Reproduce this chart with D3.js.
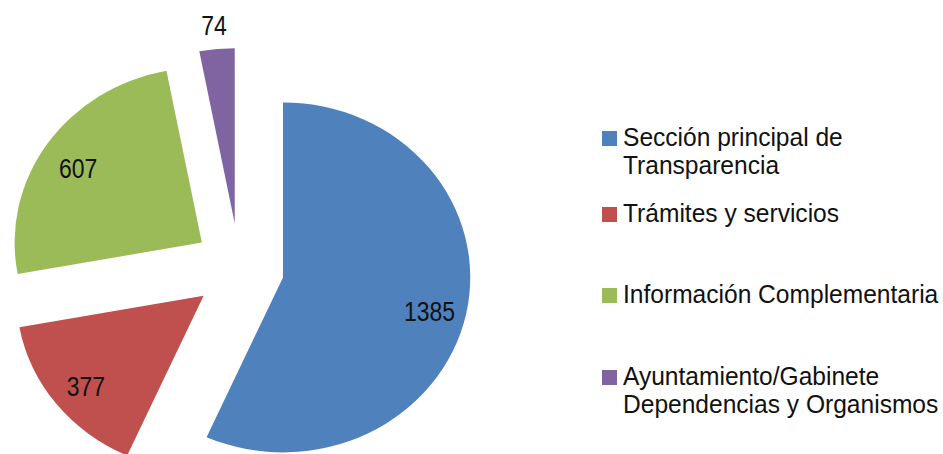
<!DOCTYPE html>
<html>
<head>
<meta charset="utf-8">
<script src="https://cdn.jsdelivr.net/npm/d3@7"></script>
<style>
  body { margin: 0; background: #fff; }
  text { font-family: "Liberation Sans", Arial, sans-serif; }
</style>
</head>
<body>
<div id="chart"></div>
<script>
// data
const categories = [
  "Sección principal de Transparencia",
  "Trámites y servicios",
  "Información Complementaria",
  "Ayuntamiento/Gabinete Dependencias y Organismos"
];
const legendLines = [
  ["Sección principal de", "Transparencia"],
  ["Trámites y servicios"],
  ["Información Complementaria"],
  ["Ayuntamiento/Gabinete", "Dependencias y Organismos"]
];
const values = [1385, 377, 607, 74];
const colors = ["#4F81BD", "#C0504D", "#9BBB59", "#8064A2"];

const width = 943, height = 454;
const cx = 239, cy = 268;     // pie centre before exploding
const ry = 175, sx = 1.07;    // pie is a little wider than tall
const explode = 45;

const svg = d3.select("#chart").append("svg")
    .attr("width", width)
    .attr("height", height);

const pie = d3.pie().sort(null).value(d => d);
const arcs = pie(values);

const arc = d3.arc().innerRadius(0).outerRadius(ry);
const labelArc = d3.arc().innerRadius(ry * 0.8).outerRadius(ry * 0.8);
const outerLabelArc = d3.arc().innerRadius(ry * 1.16).outerRadius(ry * 1.16);

function offset(d) {
    const mid = (d.startAngle + d.endAngle) / 2;
    return [cx + explode * Math.sin(mid), cy - explode * Math.cos(mid)];
}

function labelPos(d) {
    const [ox, oy] = offset(d);
    const c = (d.endAngle - d.startAngle < 0.3 ? outerLabelArc : labelArc).centroid(d);
    return [ox + c[0] * sx, oy + c[1]];
}

svg.append("g")
    .selectAll("path")
    .data(arcs)
    .join("path")
    .attr("transform", d => {
        const [ox, oy] = offset(d);
        return `translate(${ox},${oy}) scale(${sx},1)`;
    })
    .attr("d", arc)
    .attr("fill", (d, i) => colors[i]);

// narrow-looking numbers: squeeze the text horizontally
svg.append("g")
    .selectAll("text")
    .data(arcs)
    .join("text")
    .attr("transform", d => {
        const [x, y] = labelPos(d);
        return `translate(${x},${y}) scale(0.82,1)`;
    })
    .attr("dy", "0.5em")
    .attr("text-anchor", "middle")
    .attr("font-size", 28)
    .attr("fill", "#111")
    .text(d => d.data);

// legend
const legendY = [146, 222, 303, 385];

const legend = svg.append("g")
    .selectAll("g")
    .data(categories)
    .join("g")
    .attr("transform", (d, i) => `translate(602,${legendY[i]})`);

legend.append("rect")
    .attr("x", 0)
    .attr("y", -15)
    .attr("width", 15)
    .attr("height", 15)
    .attr("fill", (d, i) => colors[i]);

legend.append("text")
    .attr("transform", "translate(21,0) scale(0.945,1)")
    .attr("font-size", 26)
    .attr("fill", "#111")
    .selectAll("tspan")
    .data((d, i) => legendLines[i])
    .join("tspan")
    .attr("x", 0)
    .attr("dy", (d, j) => j === 0 ? 0 : 28)
    .text(d => d);
</script>
</body>
</html>
